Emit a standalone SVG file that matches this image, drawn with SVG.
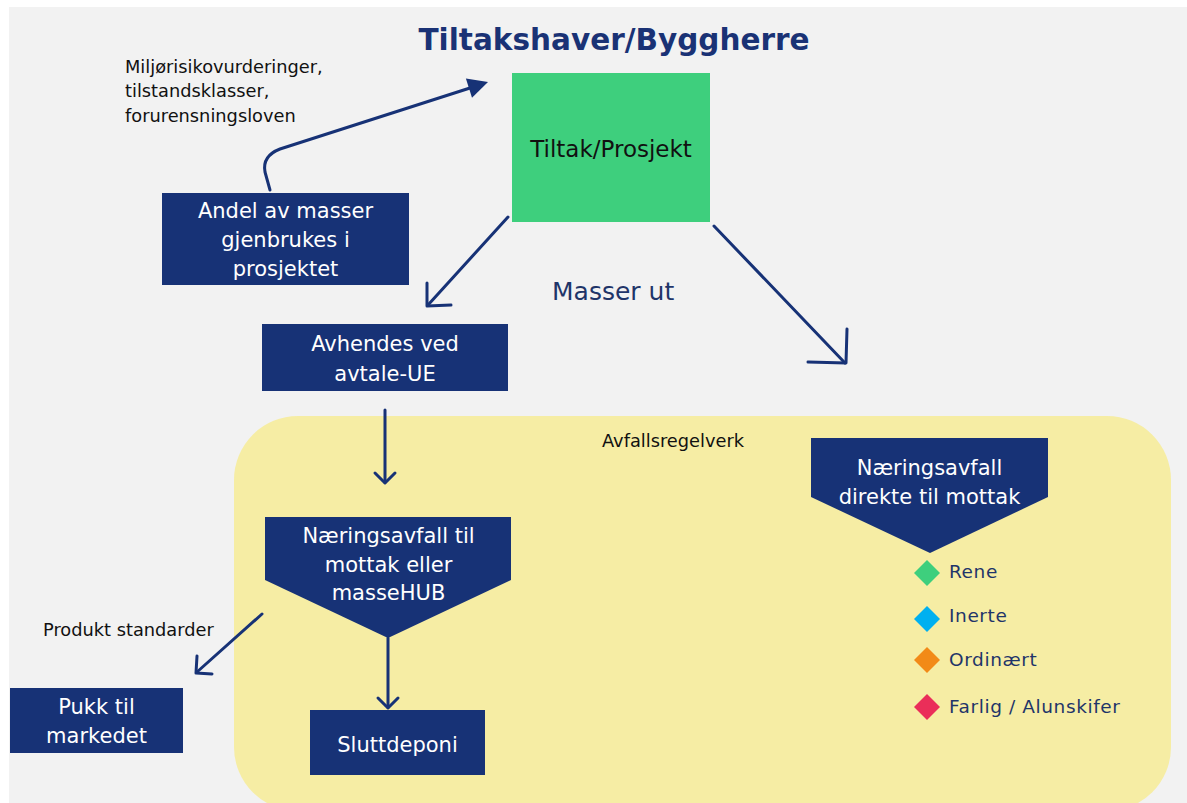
<svg xmlns="http://www.w3.org/2000/svg" width="1187" height="803" viewBox="0 0 1187 803">
  <style>
    .navy { fill: #173276; }
    .wt { fill: #ffffff; font-family: "DejaVu Sans", sans-serif; font-size: 21px; text-anchor: middle; }
    .bk { fill: #111111; font-family: "DejaVu Sans", sans-serif; font-size: 17.8px; }
    .leg { fill: #1f3569; font-family: "DejaVu Sans", sans-serif; font-size: 18.5px; letter-spacing: 0.6px; }
    .ln { fill: none; stroke: #173276; stroke-width: 3; stroke-linecap: round; stroke-linejoin: round; }
  </style>
  <rect x="0" y="0" width="1187" height="803" fill="#ffffff"/>
  <rect x="9" y="7" width="1178" height="796" fill="#f2f2f2"/>

  <g id="region-avfall">
    <rect x="234" y="416" width="937" height="395" rx="64" ry="64" fill="#f6eda4"/>
    <text class="bk" x="602" y="447">Avfallsregelverk</text>
  </g>

  <g id="title">
    <text x="614" y="50" text-anchor="middle" font-family="DejaVu Sans, sans-serif" font-size="29.5" font-weight="bold" fill="#1a3275">Tiltakshaver/Byggherre</text>
  </g>

  <g id="label-miljo">
    <text class="bk" x="125" y="73">Miljørisikovurderinger,</text>
    <text class="bk" x="125" y="97">tilstandsklasser,</text>
    <text class="bk" x="125" y="122">forurensningsloven</text>
  </g>

  <g id="node-tiltak">
    <rect x="512" y="73" width="198" height="149" fill="#3ecf7d"/>
    <text x="611" y="157" text-anchor="middle" font-family="DejaVu Sans, sans-serif" font-size="23" fill="#111111">Tiltak/Prosjekt</text>
  </g>

  <g id="node-andel">
    <rect class="navy" x="162" y="193" width="247" height="92"/>
    <text class="wt" x="285.5" y="218">Andel av masser</text>
    <text class="wt" x="285.5" y="247">gjenbrukes i</text>
    <text class="wt" x="285.5" y="276">prosjektet</text>
  </g>

  <g id="label-masser-ut">
    <text x="552" y="300" font-family="DejaVu Sans, sans-serif" font-size="25" fill="#1f3569">Masser ut</text>
  </g>

  <g id="node-avhendes">
    <rect class="navy" x="262" y="324" width="246" height="67"/>
    <text class="wt" x="385" y="351">Avhendes ved</text>
    <text class="wt" x="385" y="381">avtale-UE</text>
  </g>

  <g id="node-mottak-hub">
    <polygon class="navy" points="265,517 511,517 511,580 388,638 265,580"/>
    <text class="wt" x="388.5" y="543">Næringsavfall til</text>
    <text class="wt" x="388.5" y="572">mottak eller</text>
    <text class="wt" x="388.5" y="600">masseHUB</text>
  </g>

  <g id="node-direkte">
    <polygon class="navy" points="811,438 1048,438 1048,497 930,553 811,497"/>
    <text class="wt" x="929.5" y="475">Næringsavfall</text>
    <text class="wt" x="929.5" y="504">direkte til mottak</text>
  </g>

  <g id="node-sluttdeponi">
    <rect class="navy" x="310" y="710" width="175" height="65"/>
    <text class="wt" x="397.5" y="752">Sluttdeponi</text>
  </g>

  <g id="node-pukk">
    <rect class="navy" x="10" y="688" width="173" height="65"/>
    <text class="wt" x="96.5" y="714">Pukk til</text>
    <text class="wt" x="96.5" y="743">markedet</text>
  </g>

  <g id="label-produkt">
    <text class="bk" x="43" y="636">Produkt standarder</text>
  </g>

  <g id="legend">
    <polygon points="927,560 940,573 927,586 914,573" fill="#3ecf7d"/>
    <text class="leg" x="949" y="578">Rene</text>
    <polygon points="927,606 940,619 927,632 914,619" fill="#00b0f0"/>
    <text class="leg" x="949" y="622">Inerte</text>
    <polygon points="927,647 940,660 927,673 914,660" fill="#f28a17"/>
    <text class="leg" x="949" y="666">Ordinært</text>
    <polygon points="927,694 940,707 927,720 914,707" fill="#ea2e59"/>
    <text class="leg" x="949" y="713">Farlig / Alunskifer</text>
  </g>

  <g id="connectors">
    <path class="ln" stroke-width="2.5" d="M270,190 L265,172 Q262,156 280,149 L470,88"/>
    <polygon points="488,82 472,97.7 465.9,78.6" fill="#173276"/>

    <path class="ln" d="M508,217 L428,305"/>
    <path class="ln" d="M427,283 L427,306 L451,305"/>

    <path class="ln" d="M714,226 L845,363"/>
    <path class="ln" d="M847,329 L846,363 L808,362"/>

    <path class="ln" d="M385,410 L385,482"/>
    <path class="ln" d="M375,473 L385,483 L395,473"/>

    <path class="ln" d="M388,638 L388,707"/>
    <path class="ln" d="M378,698 L388,708 L398,698"/>

    <path class="ln" d="M262,614 L197,672"/>
    <path class="ln" d="M197,656 L196,673 L212,674"/>
  </g>
</svg>
